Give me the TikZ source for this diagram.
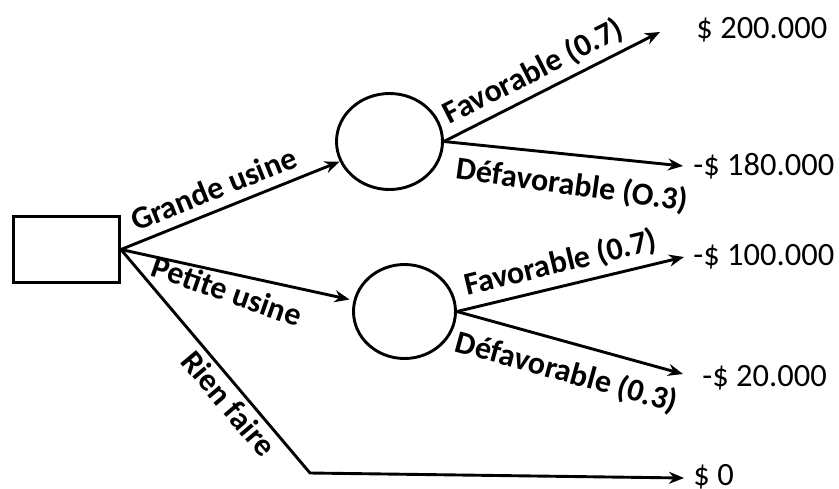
\documentclass[tikz,border=0pt]{standalone}
\usepackage{fontspec}
\setmainfont{Carlito}
\usetikzlibrary{shapes.geometric,arrows.meta}

\newlength{\du}
\setlength{\du}{1pt}

\tikzset{
  decision/.style={draw, rectangle, minimum width=106\du, minimum height=66\du, inner sep=0pt},
  chance/.style={draw, ellipse, inner sep=0pt},
  branch/.style={-{Stealth[length=15pt,width=12pt]}},
  lbl/.style={font=\fontsize{32}{34}\selectfont\bfseries, sloped, inner sep=0pt},
  payoff/.style={anchor=west, inner sep=0pt, font=\fontsize{32.5}{35}\selectfont},
}

\begin{document}
\begin{tikzpicture}
\pgftransformxscale{1.000000}
\definecolor{dialinecolor}{rgb}{0.000000, 0.000000, 0.000000}
\pgfsetstrokecolor{dialinecolor}
\pgfsetlinewidth{2.900000\du}
\useasboundingbox (0\du,0\du) rectangle (839\du,-488\du);
% decision and chance nodes
\node[decision] (dec) at (66.5\du,-249.5\du) {};
\node[chance, minimum width=106\du, minimum height=96\du] (big) at (389.5\du,-141.5\du) {};
\node[chance, minimum width=102\du, minimum height=94\du] (small) at (404.5\du,-311.5\du) {};
% arrow ends
\coordinate (rf) at (310\du,-473\du);
\coordinate (t1) at (660\du,-32\du);
\coordinate (t2) at (683\du,-166\du);
\coordinate (t3) at (684\du,-257\du);
\coordinate (t4) at (683\du,-374\du);
\coordinate (t5) at (684\du,-478\du);
% payoffs
\node[payoff] (p1) at (695\du,-30\du) {\$ 200.000};
\node[payoff] (p2) at (692\du,-166\du) {-\$ 180.000};
\node[payoff] (p3) at (692\du,-257\du) {-\$ 100.000};
\node[payoff] (p4) at (701\du,-378\du) {-\$ 20.000};
\node[payoff] (p5) at (692\du,-477\du) {\$ 0};
% branches
\draw[branch] (dec.east) -- node[lbl, above=9\du, pos=0.46] {Grande usine} (big);
\draw[branch, shorten >=4\du] (dec.east) -- node[lbl, below=5\du, pos=0.48, rotate=-7] {Petite usine} (small);
\draw[branch] (dec.east) -- node[lbl, below=4\du, pos=0.64] {Rien faire} (rf) -- (t5);
\draw[branch] (big.east) -- node[lbl, above=6\du, pos=0.46] {Favorable (0.7)} (t1);
\draw[branch] (big.east) -- node[lbl, below=15\du, pos=0.55, rotate=-2] {Défavorable (O.3)} (t2);
\draw[branch] (small.east) -- node[lbl, above=7\du, pos=0.48] {Favorable (0.7)} (t3);
\draw[branch] (small.east) -- node[lbl, below=14\du, pos=0.52] {Défavorable (0.3)} (t4);
\end{tikzpicture}
\end{document}
